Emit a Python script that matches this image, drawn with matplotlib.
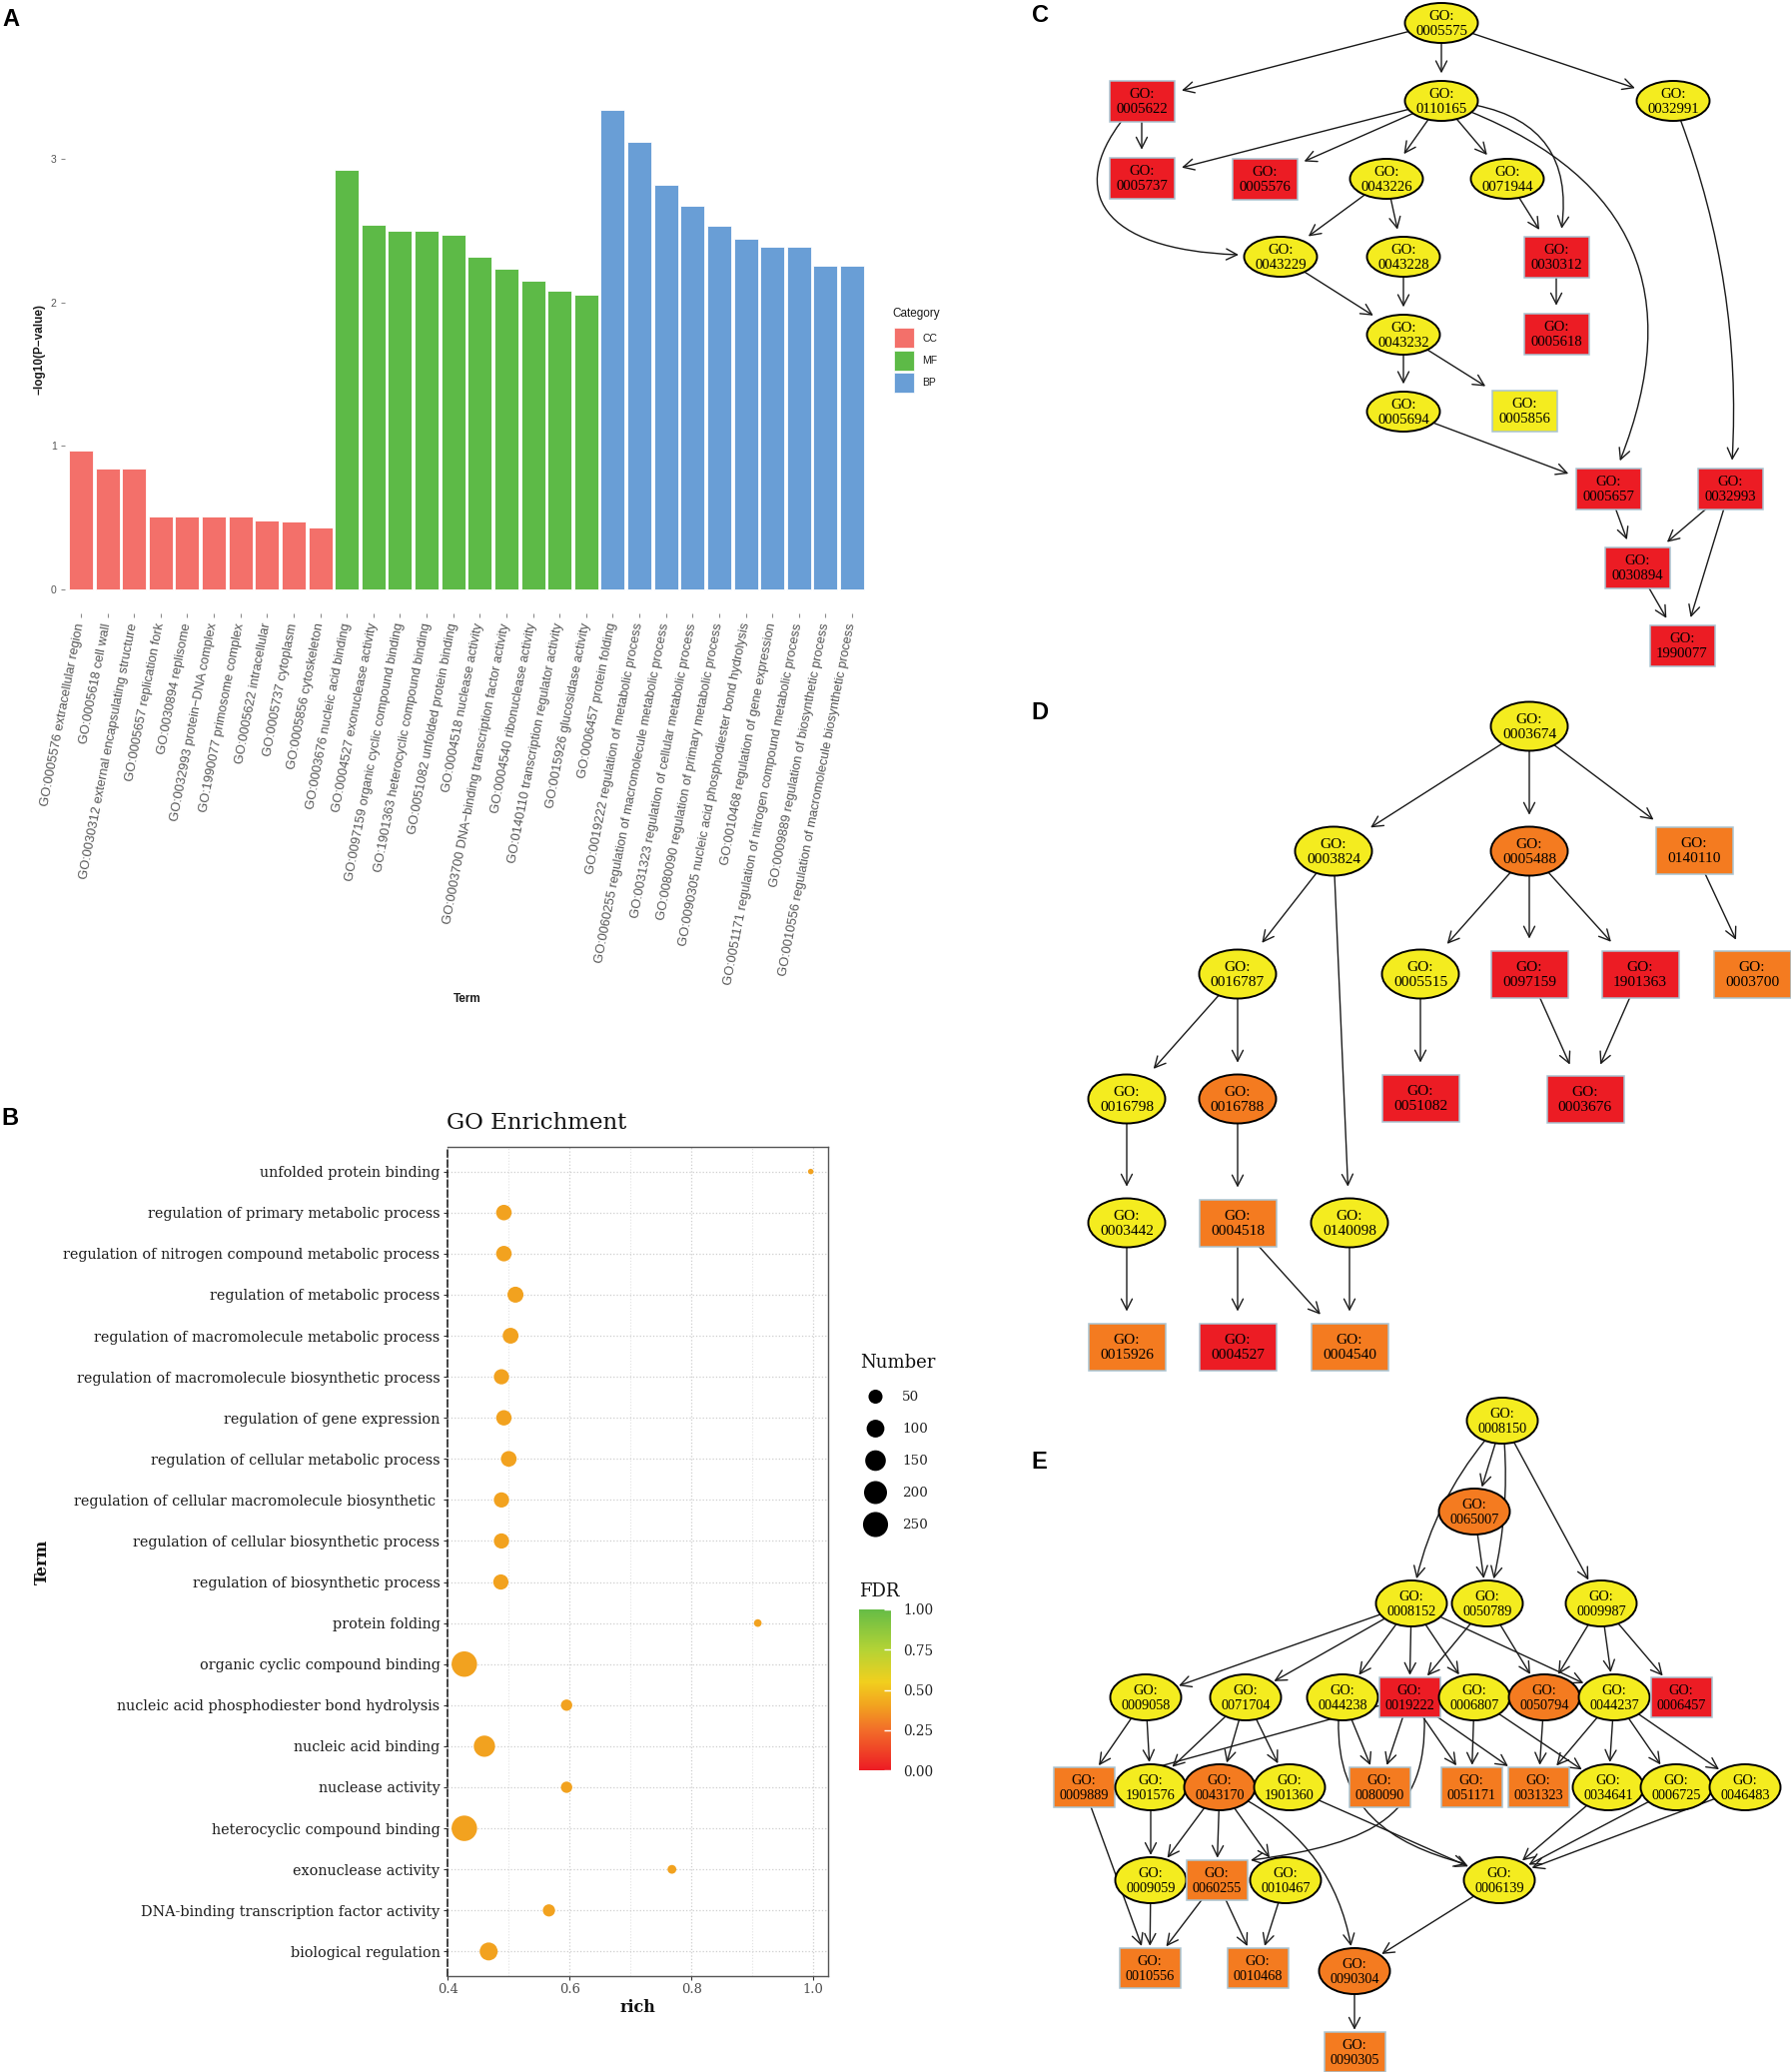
import numpy as np
import matplotlib
matplotlib.use("Agg")
import matplotlib.pyplot as plt
from matplotlib.patches import Ellipse, Rectangle, FancyArrowPatch
from matplotlib.path import Path
from matplotlib.colors import LinearSegmentedColormap, Normalize
from matplotlib.cm import ScalarMappable

W, H = 1793, 2074

# ---------------- Panel A data ----------------
a_terms = [
    "GO:0005576 extracellular region", "GO:0005618 cell wall",
    "GO:0030312 external encapsulating structure", "GO:0005657 replication fork",
    "GO:0030894 replisome", "GO:0032993 protein\u2212DNA complex",
    "GO:1990077 primosome complex", "GO:0005622 intracellular",
    "GO:0005737 cytoplasm", "GO:0005856 cytoskeleton",
    "GO:0003676 nucleic acid binding", "GO:0004527 exonuclease activity",
    "GO:0097159 organic cyclic compound binding", "GO:1901363 heterocyclic compound binding",
    "GO:0051082 unfolded protein binding", "GO:0004518 nuclease activity",
    "GO:0003700 DNA\u2212binding transcription factor activity", "GO:0004540 ribonuclease activity",
    "GO:0140110 transcription regulator activity", "GO:0015926 glucosidase activity",
    "GO:0006457 protein folding", "GO:0019222 regulation of metabolic process",
    "GO:0060255 regulation of macromolecule metabolic process",
    "GO:0031323 regulation of cellular metabolic process",
    "GO:0080090 regulation of primary metabolic process",
    "GO:0090305 nucleic acid phosphodiester bond hydrolysis",
    "GO:0010468 regulation of gene expression",
    "GO:0051171 regulation of nitrogen compound metabolic process",
    "GO:0009889 regulation of biosynthetic process",
    "GO:0010556 regulation of macromolecule biosynthetic process",
]
a_category = ["CC", "CC", "CC", "CC", "CC", "CC", "CC", "CC", "CC", "CC",
              "MF", "MF", "MF", "MF", "MF", "MF", "MF", "MF", "MF", "MF",
              "BP", "BP", "BP", "BP", "BP", "BP", "BP", "BP", "BP", "BP"]
a_values = [0.97, 0.84, 0.84, 0.51, 0.51, 0.51, 0.51, 0.48, 0.475, 0.43,
            2.92, 2.54, 2.50, 2.50, 2.47, 2.32, 2.235, 2.15, 2.08, 2.055,
            3.34, 3.12, 2.82, 2.67, 2.53, 2.44, 2.39, 2.39, 2.255, 2.255]
cat_levels = ["CC", "MF", "BP"]
cat_colors = {"CC": "#F3706A", "MF": "#5DBA47", "BP": "#699ED6"}

# ---------------- Panel B data ----------------
b_terms = [
    "unfolded protein binding", "regulation of primary metabolic process",
    "regulation of nitrogen compound metabolic process", "regulation of metabolic process",
    "regulation of macromolecule metabolic process",
    "regulation of macromolecule biosynthetic process", "regulation of gene expression",
    "regulation of cellular metabolic process",
    "regulation of cellular macromolecule biosynthetic ",
    "regulation of cellular biosynthetic process", "regulation of biosynthetic process",
    "protein folding", "organic cyclic compound binding",
    "nucleic acid phosphodiester bond hydrolysis", "nucleic acid binding",
    "nuclease activity", "heterocyclic compound binding", "exonuclease activity",
    "DNA-binding transcription factor activity", "biological regulation",
]
b_rich = [0.996, 0.492, 0.492, 0.511, 0.503, 0.488, 0.492, 0.500, 0.488, 0.488,
          0.487, 0.909, 0.427, 0.595, 0.460, 0.595, 0.427, 0.768, 0.566, 0.467]
b_number = [3, 68, 68, 74, 72, 64, 66, 70, 64, 64,
            64, 6, 260, 25, 163, 25, 260, 10, 32, 103]
b_fdr = [0.40, 0.40, 0.40, 0.40, 0.40, 0.40, 0.40, 0.40, 0.40, 0.40,
         0.40, 0.40, 0.40, 0.40, 0.40, 0.40, 0.40, 0.40, 0.40, 0.40]
num_breaks = [50, 100, 150, 200, 250]
fdr_breaks = [0.0, 0.25, 0.5, 0.75, 1.0]

# ---------------- Panels C, D, E data (GO DAGs) ----------------
C_ids = ['0005575', '0005622', '0110165', '0032991', '0005737', '0005576', '0043226',
         '0071944', '0043229', '0043228', '0030312', '0043232', '0005618', '0005694',
         '0005856', '0005657', '0032993', '0030894', '1990077']
C_x = [1443, 1143, 1443, 1675, 1143, 1266, 1388, 1509, 1282, 1405, 1558, 1405, 1558,
       1405, 1526, 1610, 1732, 1639, 1684]
C_y = [23, 101, 101, 101, 178, 179, 179, 179, 257, 257, 257, 335, 334, 412, 411, 489,
       489, 568, 646]
C_shape = ['e', 'r', 'e', 'e', 'r', 'r', 'e', 'e', 'e', 'e', 'r', 'e', 'r', 'e', 'r',
           'r', 'r', 'r', 'r']
C_fill = ['y', 'r', 'y', 'y', 'r', 'r', 'y', 'y', 'y', 'y', 'r', 'y', 'r', 'y', 'y',
          'r', 'r', 'r', 'r']
C_edges = [('0005575', '0005622'), ('0005575', '0110165'), ('0005575', '0032991'),
           ('0005622', '0005737'), ('0005622', '0043229'), ('0110165', '0005737'),
           ('0110165', '0005576'), ('0110165', '0043226'), ('0110165', '0071944'),
           ('0110165', '0030312'), ('0110165', '0005657'), ('0043226', '0043229'),
           ('0043226', '0043228'), ('0071944', '0030312'), ('0030312', '0005618'),
           ('0043229', '0043232'), ('0043228', '0043232'), ('0043232', '0005694'),
           ('0043232', '0005856'), ('0005694', '0005657'), ('0032991', '0032993'),
           ('0005657', '0030894'), ('0032993', '0030894'), ('0032993', '1990077'),
           ('0030894', '1990077')]
C_curves = {('0110165', '0030312'): -0.6,
            ('0110165', '0005657'): -0.55, ('0032991', '0032993'): -0.12}
# splines routed around nodes: offsets of (start, ctrl1) from source, (ctrl2, end) from target
C_splines = {('0005622', '0043229'): ((-20, 20), (-73, 89), (-182, -7), (-42, -2))}

D_ids = ['0003674', '0003824', '0005488', '0140110', '0016787', '0005515', '0097159',
         '1901363', '0003700', '0016798', '0016788', '0051082', '0003676', '0003442',
         '0004518', '0140098', '0015926', '0004527', '0004540']
D_x = [1531, 1335, 1531, 1696, 1239, 1422, 1531, 1642, 1754, 1128, 1239, 1422, 1587,
       1128, 1239, 1351, 1128, 1239, 1351]
D_y = [727, 852, 852, 851, 975, 975, 975, 975, 975, 1100, 1100, 1099, 1100, 1224, 1224,
       1224, 1348, 1348, 1348]
D_shape = ['e', 'e', 'e', 'r', 'e', 'e', 'r', 'r', 'r', 'e', 'e', 'r', 'r', 'e', 'r',
           'e', 'r', 'r', 'r']
D_fill = ['y', 'y', 'o', 'o', 'y', 'y', 'r', 'r', 'o', 'y', 'o', 'r', 'r', 'y', 'o',
          'y', 'o', 'r', 'o']
D_edges = [('0003674', '0003824'), ('0003674', '0005488'), ('0003674', '0140110'),
           ('0003824', '0016787'), ('0003824', '0140098'), ('0005488', '0005515'),
           ('0005488', '0097159'), ('0005488', '1901363'), ('0140110', '0003700'),
           ('0016787', '0016798'), ('0016787', '0016788'), ('0005515', '0051082'),
           ('0097159', '0003676'), ('1901363', '0003676'), ('0016798', '0003442'),
           ('0016788', '0004518'), ('0003442', '0015926'), ('0004518', '0004527'),
           ('0004518', '0004540'), ('0140098', '0004540')]
D_curves = {}

E_ids = ['0008150', '0065007', '0008152', '0050789', '0009987', '0009058', '0071704',
         '0044238', '0019222', '0006807', '0050794', '0044237', '0006457', '0009889',
         '1901576', '0043170', '1901360', '0080090', '0051171', '0031323', '0034641',
         '0006725', '0046483', '0009059', '0060255', '0010467', '0006139', '0010556',
         '0010468', '0090304', '0090305']
E_x = [1504, 1476, 1413, 1489, 1603, 1147, 1247, 1344, 1411, 1476, 1546, 1616, 1683,
       1085, 1152, 1221, 1291, 1381, 1473, 1540, 1610, 1678, 1747, 1152, 1218, 1287,
       1501, 1151, 1259, 1356, 1356]
E_y = [1422, 1513, 1605, 1605, 1605, 1699, 1699, 1699, 1699, 1699, 1699, 1699, 1699,
       1789, 1789, 1789, 1789, 1789, 1789, 1789, 1789, 1789, 1789, 1882, 1882, 1882,
       1882, 1970, 1970, 1973, 2054]
E_shape = ['e', 'e', 'e', 'e', 'e', 'e', 'e', 'e', 'r', 'e', 'e', 'e', 'r', 'r', 'e',
           'e', 'e', 'r', 'r', 'r', 'e', 'e', 'e', 'e', 'r', 'e', 'e', 'r', 'r', 'e', 'r']
E_fill = ['y', 'o', 'y', 'y', 'y', 'y', 'y', 'y', 'r', 'y', 'o', 'y', 'r', 'o', 'y',
          'o', 'y', 'o', 'o', 'o', 'y', 'y', 'y', 'y', 'o', 'y', 'y', 'o', 'o', 'o', 'o']
E_edges = [('0008150', '0065007'), ('0008150', '0008152'), ('0008150', '0050789'),
           ('0008150', '0009987'), ('0065007', '0050789'),
           ('0008152', '0009058'), ('0008152', '0071704'), ('0008152', '0044238'),
           ('0008152', '0019222'), ('0008152', '0006807'), ('0008152', '0044237'),
           ('0050789', '0019222'), ('0050789', '0050794'),
           ('0009987', '0050794'), ('0009987', '0044237'), ('0009987', '0006457'),
           ('0009058', '0009889'), ('0009058', '1901576'),
           ('0071704', '1901576'), ('0071704', '0043170'), ('0071704', '1901360'),
           ('0044238', '0080090'), ('0044238', '0006139'),
           ('0019222', '0009889'), ('0019222', '0080090'), ('0019222', '0060255'),
           ('0019222', '0051171'), ('0019222', '0031323'),
           ('0006807', '0051171'), ('0006807', '0034641'), ('0050794', '0031323'),
           ('0044237', '0031323'), ('0044237', '0034641'), ('0044237', '0006725'),
           ('0044237', '0046483'), ('0009889', '0010556'), ('1901576', '0009059'),
           ('0043170', '0009059'), ('0043170', '0060255'), ('0043170', '0010467'),
           ('0043170', '0090304'), ('1901360', '0006139'), ('0034641', '0006139'),
           ('0006725', '0006139'), ('0046483', '0006139'), ('0009059', '0010556'),
           ('0060255', '0010556'), ('0060255', '0010468'), ('0010467', '0010468'),
           ('0006139', '0090304'), ('0090304', '0090305')]
E_curves = {('0008150', '0008152'): 0.15, ('0008150', '0050789'): -0.1,
            ('0043170', '0090304'): -0.3}
E_splines = {('0044238', '0006139'): ((-4, 23), (-6, 111), (-111, -37), (-33, -16)),
             ('0019222', '0060255'): ((15, 20), (17, 116), (162, -37), (34, -20))}

node_colors = {'y': '#F4EC1F', 'r': '#EC1C24', 'o': '#F47B20'}

# ---------------- figure ----------------
fig = plt.figure(figsize=(W / 100, H / 100), dpi=100)
SANS = ['Liberation Sans', 'DejaVu Sans']
SERIF_B = ['DejaVu Serif']
SERIF_G = ['Liberation Serif', 'DejaVu Serif']


def box(x0, y0, x1, y1):
    return [x0 / W, 1 - y1 / H, (x1 - x0) / W, (y1 - y0) / H]


# ---------- Panel A ----------
axA = fig.add_axes(box(65, 86, 869, 614))
xa = np.arange(len(a_terms))
axA.bar(xa, a_values, width=0.9, color=[cat_colors[c] for c in a_category],
        edgecolor='white', linewidth=0.6)
axA.set_xlim(-0.6, len(a_terms) - 0.4)
ymax = max(a_values)
axA.set_ylim(-0.05 * ymax, 1.05 * ymax)
axA.set_yticks([0, 1, 2, 3])
axA.set_yticklabels(['0', '1', '2', '3'], fontfamily=SANS)
axA.set_xticks(xa)
axA.set_xticklabels(a_terms, fontfamily=SANS, fontsize=9.3, color='#555555')
for lbl in axA.get_xticklabels():
    lbl.set_rotation(79)
    lbl.set_ha('right')
    lbl.set_va('center')
    lbl.set_rotation_mode('anchor')
axA.tick_params(axis='y', length=3, width=0.8, color='#8C8C8C', labelsize=7.5,
                labelcolor='#555555', pad=3)
axA.tick_params(axis='x', length=3, width=0.8, color='#8C8C8C', pad=4)
for s in axA.spines.values():
    s.set_visible(False)
axA.set_facecolor('none')

fig.text(40 / W, 1 - 350 / H, "\u2212log10(P\u2212value)", rotation=90, ha='center',
         va='center', fontsize=8.5, fontweight='bold', family=SANS, color='#1a1a1a')
fig.text(468 / W, 1 - 1000 / H, "Term", ha='center', va='center', fontsize=8.5,
         fontweight='bold', family=SANS, color='#1a1a1a')

# ---------- Panel B ----------
cmap = LinearSegmentedColormap.from_list(
    'fdr', [(0.0, '#ED1C24'), (0.25, '#F26D29'), (0.4, '#F2A21F'), (0.55, '#F1CF1E'),
            (0.75, '#B4D335'), (1.0, '#66BC46')])
norm = Normalize(0, 1)

nmin, nmax = min(b_number), max(b_number)
DMIN, DMAX = 5.5, 25.5


def diam_px(n):
    t = np.clip((np.asarray(n, float) - nmin) / (nmax - nmin), 0, 1)
    return DMIN + (DMAX - DMIN) * np.sqrt(t)


axB = fig.add_axes(box(447.5, 1148, 829, 1978))
yb = np.arange(len(b_terms))
axB.scatter(b_rich, yb, s=(diam_px(b_number) * 0.72) ** 2, c=b_fdr, cmap=cmap,
            norm=norm, edgecolors='none', zorder=3)
rlo, rhi = min(b_rich), max(b_rich)
rr = rhi - rlo
axB.set_xlim(rlo - 0.05 * rr, rhi + 0.05 * rr)
axB.set_ylim(len(b_terms) - 0.4, -0.6)
axB.set_xticks([0.4, 0.6, 0.8, 1.0])
axB.set_xticks([0.5, 0.7, 0.9], minor=True)
axB.set_xticklabels(['0.4', '0.6', '0.8', '1.0'], fontfamily=SERIF_B, fontsize=9.4,
                    color='#4D4D4D')
axB.set_yticks(yb)
axB.set_yticklabels(b_terms, fontfamily=SERIF_B, fontsize=10.4, color='#1A1A1A')
axB.grid(True, which='major', axis='both', ls=':', color='#CFCFCF', lw=0.9)
axB.grid(True, which='minor', axis='x', ls=':', color='#E2E2E2', lw=0.8)
axB.set_axisbelow(True)
axB.tick_params(axis='both', which='major', length=3, width=0.8, color='#333333', pad=2)
axB.tick_params(axis='x', which='minor', length=0)
for k in ['top', 'right', 'bottom']:
    axB.spines[k].set_color('#555555')
    axB.spines[k].set_linewidth(1.0)
axB.spines['left'].set_linestyle((0, (4, 2)))
axB.spines['left'].set_color('#222222')
axB.spines['left'].set_linewidth(1.2)

fig.text(447 / W, 1 - 1124 / H, "GO Enrichment", ha='left', va='center', fontsize=16.5,
         family=SERIF_B, color='#111111')
fig.text(638 / W, 1 - 2010 / H, "rich", ha='center', va='center', fontsize=11.5,
         fontweight='bold', family=SERIF_B, color='#111111')
fig.text(42 / W, 1 - 1563 / H, "Term", ha='center', va='center', rotation=90,
         fontsize=11.5, fontweight='bold', family=SERIF_B, color='#111111')

# FDR colour bar
cax = fig.add_axes(box(860, 1611, 892, 1772))
cb = fig.colorbar(ScalarMappable(norm=norm, cmap=cmap), cax=cax, ticks=fdr_breaks)
cb.outline.set_visible(False)
cb.ax.set_yticklabels(['%.2f' % v for v in fdr_breaks], fontfamily=SERIF_B,
                      fontsize=9.8, color='#222222')
cb.ax.tick_params(length=5, width=1.0, color='white', direction='in', pad=9)
fig.text(860 / W, 1 - 1593 / H, "FDR", ha='left', va='center', fontsize=13,
         family=SERIF_B, color='#111111')

# ---------- overlay for legends and graphs ----------
axO = fig.add_axes([0, 0, 1, 1])
axO.set_xlim(0, W)
axO.set_ylim(H, 0)
axO.axis('off')

# Panel A legend
axO.text(893, 314, "Category", ha='left', va='center', fontsize=8.5, family=SANS,
         color='#1a1a1a')
for i, c in enumerate(cat_levels):
    yk = 328 + i * 22.5
    axO.add_patch(Rectangle((894.5, yk), 20.3, 20, facecolor=cat_colors[c],
                            edgecolor='white', lw=0.5))
    axO.text(923, yk + 10.5, c, ha='left', va='center', fontsize=7.5, family=SANS,
             color='#1a1a1a')

# Panel B size legend
axO.text(861, 1364, "Number", ha='left', va='center', fontsize=13, family=SERIF_B,
         color='#111111')
leg_y = [1398 + 32 * i for i in range(len(num_breaks))]
axO.scatter([876.5] * len(num_breaks), leg_y, s=(diam_px(num_breaks) * 0.72) ** 2,
            color='black', edgecolors='none')
for yy, n in zip(leg_y, num_breaks):
    axO.text(903, yy, str(n), ha='left', va='center', fontsize=9.7, family=SERIF_B,
             color='#222222')

ARROW = '->,head_length=0.65,head_width=0.33'


def draw_graph(ids, xs, ys, shapes, fills, edges, curves, esz, rsz, fs, shrink,
               splines=None):
    splines = splines or {}
    patches = {}
    for gid, x, y, shp, fl in zip(ids, xs, ys, shapes, fills):
        if shp == 'e':
            p = Ellipse((x, y), esz[0], esz[1], facecolor=node_colors[fl],
                        edgecolor='black', lw=1.4, zorder=3)
        else:
            p = Rectangle((x - rsz[0] / 2, y - rsz[1] / 2), rsz[0], rsz[1],
                          facecolor=node_colors[fl], edgecolor='#A9C3D1', lw=1.1,
                          zorder=3)
        axO.add_patch(p)
        patches[gid] = (p, x, y)
        axO.text(x, y + 1, "GO:\n" + gid, ha='center', va='center', fontsize=fs,
                 family=SERIF_G, linespacing=1.12, zorder=4, color='black')
    for a, b in edges:
        pa, xa_, ya_ = patches[a]
        pb, xb_, yb_ = patches[b]
        if (a, b) in splines:
            s0, c1, c2, e1 = splines[(a, b)]
            verts = [(xa_ + s0[0], ya_ + s0[1]), (xa_ + c1[0], ya_ + c1[1]),
                     (xb_ + c2[0], yb_ + c2[1]), (xb_ + e1[0], yb_ + e1[1])]
            pth = Path(verts, [Path.MOVETO, Path.CURVE4, Path.CURVE4, Path.CURVE4])
            arr = FancyArrowPatch(path=pth, arrowstyle=ARROW, mutation_scale=12,
                                  lw=1.0, color='#1a1a1a', zorder=2)
        else:
            rad = curves.get((a, b), 0.0)
            arr = FancyArrowPatch((xa_, ya_), (xb_, yb_), patchA=pa, patchB=pb,
                                  connectionstyle='arc3,rad=%g' % rad,
                                  arrowstyle=ARROW, mutation_scale=12, lw=1.0,
                                  color='#1a1a1a', shrinkA=0, shrinkB=shrink, zorder=2)
        axO.add_patch(arr)


draw_graph(C_ids, C_x, C_y, C_shape, C_fill, C_edges, C_curves,
           (73, 40), (65, 41), 10.6, 6, C_splines)
draw_graph(D_ids, D_x, D_y, D_shape, D_fill, D_edges, D_curves,
           (77, 49), (77, 47), 11.1, 9)
draw_graph(E_ids, E_x, E_y, E_shape, E_fill, E_edges, E_curves,
           (71, 46), (61, 40), 10.3, 2, E_splines)

# panel letters
for lab, (px, py) in zip(['A', 'B', 'C', 'D', 'E'],
                         [(11, 20), (10, 1119), (1041, 15), (1041, 714), (1040, 1463)]):
    fig.text(px / W, 1 - py / H, lab, ha='center', va='center', fontsize=17,
             fontweight='bold', family=SANS, color='black')

fig.savefig("out.png", dpi=100)
